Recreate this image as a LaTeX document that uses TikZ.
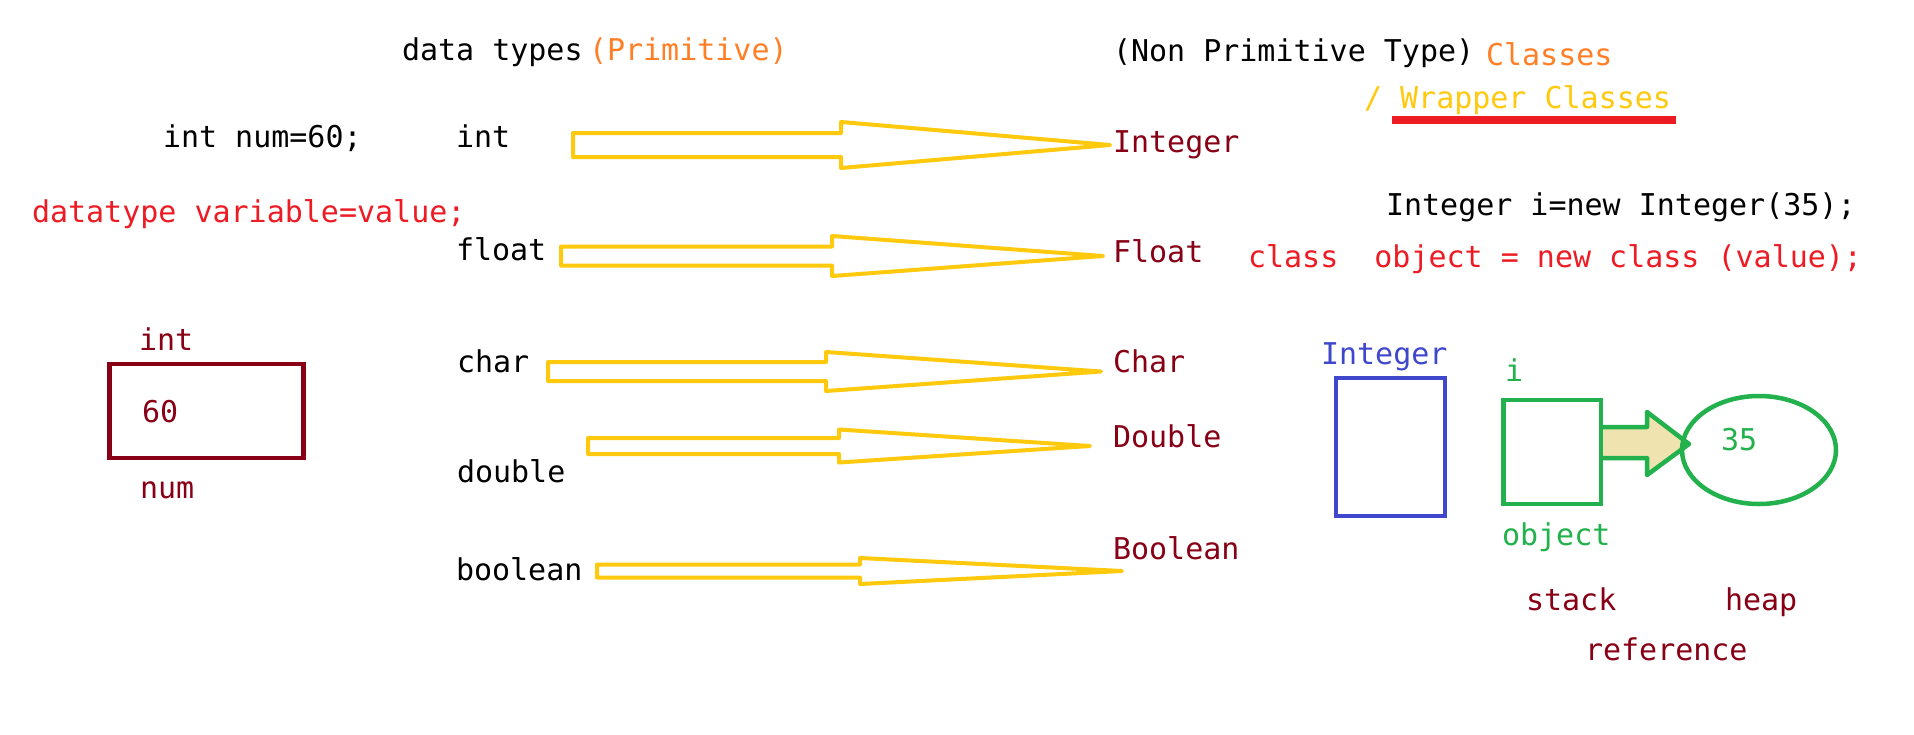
\documentclass[tikz,border=0pt]{standalone}
\usepackage{fontspec}
\newfontfamily\codefont{DejaVu Sans Mono}
\definecolor{porange}{HTML}{FF7F27}
\definecolor{pgold}{HTML}{FFC90E}
\definecolor{pred}{HTML}{ED1C24}
\definecolor{pmaroon}{HTML}{880015}
\definecolor{pgreen}{HTML}{22B14C}
\definecolor{pindigo}{HTML}{3F48CC}
\definecolor{ptan}{HTML}{EFE4B0}
\newcommand\yarrowshape[6]{%
  \draw[yarr] (#1,#4-#5) -- (#2,#4-#5) -- (#2,#4-#6) -- (#3,#4) -- (#2,#4+#6) -- (#2,#4+#5) -- (#1,#4+#5) -- cycle;}
\tikzset{
  txt/.style={anchor=base west, inner sep=0pt, outer sep=0pt, font=\codefont\fontsize{30}{36}\selectfont},
  yarr/.style={draw=pgold, line width=4pt, line join=round},
}
\begin{document}
\begin{tikzpicture}[x=1pt, y=-1pt]
\useasboundingbox (0,0) rectangle (1914,734);
\fill[white] (0,0) rectangle (1914,734);

% headings
\node[txt] (dt) at (402,60) {data types};
\node[txt, text=porange] (prim) at (589,60) {(Primitive)};
\node[txt] (nonprim) at (1113,61) {(Non Primitive Type)};
\node[txt, text=porange] (cls) at (1486,65) {Classes};
\node[txt, text=pgold] (wrap) at (1364,108) {/ Wrapper Classes};
\fill[pred] (1392,116) rectangle (1676,124);

% left code
\node[txt] (decl) at (163,147) {int num=60;};
\node[txt, text=pred] (syntax) at (32,222) {datatype variable=value;};

% primitive variable box
\node[txt, text=pmaroon] (vtype) at (139,350) {int};
\draw[pmaroon, line width=4.5pt] (109.5,364) rectangle (303.5,458);
\node[txt, text=pmaroon] (vval) at (142,422) {60};
\node[txt, text=pmaroon] (vname) at (140,498) {num};

% primitive types
\node[txt] (pint) at (456,147) {int};
\node[txt] (pfloat) at (456,260) {float};
\node[txt] (pchar) at (457,372) {char};
\node[txt] (pdouble) at (457,482) {double};
\node[txt] (pbool) at (456,580) {boolean};

% wrapper types
\node[txt, text=pmaroon] (wint) at (1113,152) {Integer};
\node[txt, text=pmaroon] (wfloat) at (1113,262) {Float};
\node[txt, text=pmaroon] (wchar) at (1113,372) {Char};
\node[txt, text=pmaroon] (wdouble) at (1113,447) {Double};
\node[txt, text=pmaroon] (wbool) at (1113,559) {Boolean};

% yellow block arrows
\yarrowshape{573}{841}{1110}{145}{12}{23}
\yarrowshape{561}{832}{1103}{256}{9.5}{20}
\yarrowshape{548}{826}{1101}{371.5}{9.5}{19.5}
\yarrowshape{588}{839}{1090}{446}{8}{16.5}
\yarrowshape{597}{860}{1122}{571}{6.5}{13}

% object code
\node[txt] (objdecl) at (1386,215) {Integer i=new Integer(35);};
\node[txt, text=pred] (objsyntax) at (1248,267) {class\ \ object = new class (value);};

% object diagram
\node[txt, text=pindigo] (cname) at (1321,364) {Integer};
\draw[pindigo, line width=4.5pt] (1336,378) rectangle (1445,516);
\node[txt, text=pgreen] (iname) at (1505,381) {i};
\draw[pgreen, line width=4.5pt, fill=ptan, line join=round]
  (1601,427) -- (1647,427) -- (1647,412) -- (1689,444) -- (1647,475) -- (1647,458) -- (1601,458);
\draw[pgreen, line width=4.5pt] (1503.5,400) rectangle (1601,504);
\draw[pgreen, line width=4.5pt] (1759,450) ellipse [x radius=77, y radius=54];
\node[txt, text=pgreen] (oval) at (1721,450) {35};
\node[txt, text=pgreen] (oname) at (1502,545) {object};
\node[txt, text=pmaroon] (stk) at (1526,610) {stack};
\node[txt, text=pmaroon] (hp) at (1725,610) {heap};
\node[txt, text=pmaroon] (ref) at (1585,660) {reference};
\end{tikzpicture}
\end{document}
